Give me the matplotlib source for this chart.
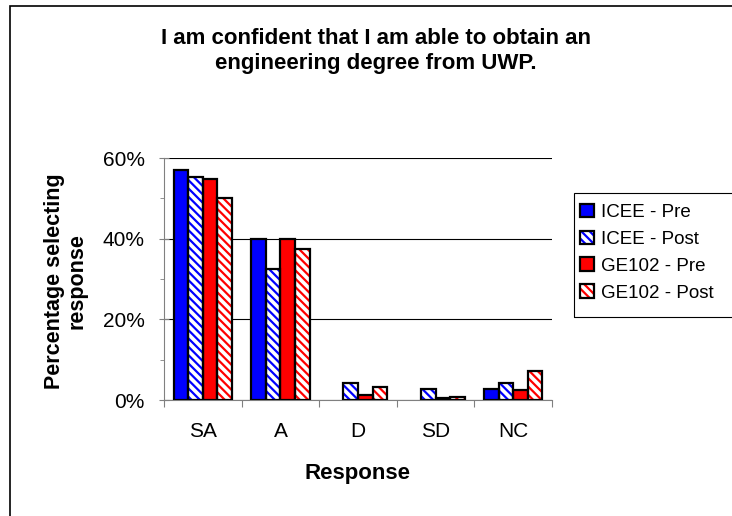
import matplotlib.pyplot as plt
import numpy as np
from matplotlib.patches import Rectangle
from matplotlib.ticker import PercentFormatter, MultipleLocator

plt.rcParams['font.family'] = ['Liberation Sans', 'DejaVu Sans']
plt.rcParams['hatch.linewidth'] = 1.6

respostas = ['SA', 'A', 'D', 'SD', 'NC']
series = ['ICEE - Pre', 'ICEE - Post', 'GE102 - Pre', 'GE102 - Post']
icee_pre = [57.0, 40.0, 0.0, 0.0, 2.8]
icee_post = [55.4, 32.6, 4.3, 2.8, 4.3]
ge102_pre = [54.9, 40.0, 1.3, 0.5, 2.5]
ge102_post = [50.0, 37.5, 3.3, 0.8, 7.3]

valores = [icee_pre, icee_post, ge102_pre, ge102_post]
cores = ['#0000ff', 'white', '#ff0000', 'white']
hachuras = [None, '\\\\\\\\', None, '\\\\\\\\']
cor_hachura = ['black', '#0000ff', 'black', '#ff0000']

fig = plt.figure(figsize=(7.32, 5.16), dpi=100)
# moldura do gráfico inteiro
fig.patches.append(Rectangle((10 / 732, -0.1), 1.2, 1 - 6 / 516 + 0.1, transform=fig.transFigure,
                             fill=False, edgecolor='black', linewidth=1.2))
ax = fig.add_axes([164 / 732, 1 - 400 / 516, 388 / 732, 242 / 516])

x = np.arange(len(respostas))
largura = 0.1875
handles = []
for i, (vals, nome) in enumerate(zip(valores, series)):
    pos = x + (i - 1.5) * largura
    b = ax.bar(pos, vals, largura, color=cores[i], zorder=3,
               edgecolor=cor_hachura[i], hatch=hachuras[i], linewidth=0)
    # contorno preto por cima da hachura
    contorno = ax.bar(pos, vals, largura, fill=False, edgecolor='black', linewidth=1.6, zorder=4)
    for r, v in zip(contorno, vals):
        if v == 0:
            r.set_linewidth(0)
    handles.append((b, contorno))

ax.set_xlim(-0.5, 4.5)
ax.set_ylim(0, 60)
ax.yaxis.set_major_locator(MultipleLocator(20))
ax.yaxis.set_minor_locator(MultipleLocator(10))
ax.yaxis.set_major_formatter(PercentFormatter(decimals=0))
ax.grid(axis='y', which='major', color='black', linewidth=0.8, zorder=0)

for lado in ['top', 'right']:
    ax.spines[lado].set_visible(False)
ax.spines['left'].set_color('#808080')
ax.spines['bottom'].set_color('#808080')

ax.set_xticks(np.arange(-0.5, 5, 1))
ax.set_xticklabels([])
ax.set_xticks(x, minor=True)
ax.set_xticklabels(respostas, minor=True, fontsize=15)
ax.tick_params(axis='x', which='major', length=5, color='#808080', direction='out')
ax.tick_params(axis='x', which='minor', length=0, pad=16)
ax.tick_params(axis='y', which='major', length=7, color='#808080', direction='inout',
               labelsize=15, pad=10.5)
ax.tick_params(axis='y', which='minor', length=3, color='#808080')

ax.set_xlabel('Response', fontsize=16, fontweight='bold', labelpad=16)
fig.text(66 / 732, 1 - 281 / 516, 'Percentage selecting\nresponse', rotation=90,
         ha='center', va='center', fontsize=15.5, fontweight='bold', linespacing=1.1)
fig.text(376 / 732, 1 - 51 / 516,
         'I am confident that I am able to obtain an\nengineering degree from UWP.',
         ha='center', va='center', fontsize=16, fontweight='bold', linespacing=1.2)

leg = fig.legend(handles=handles, labels=series, loc='upper left',
                 bbox_to_anchor=(576 / 732, 1 - 200 / 516),
                 fontsize=13.5, frameon=False,
                 handlelength=0.75, handleheight=0.75, handletextpad=0.4,
                 labelspacing=0.5, borderpad=0.2, borderaxespad=0)
fig.patches.append(Rectangle((574 / 732, 1 - 317 / 516), 0.5, 124 / 516, transform=fig.transFigure,
                             fill=False, edgecolor='black', linewidth=0.8))

fig.savefig('out.png', dpi=100)
